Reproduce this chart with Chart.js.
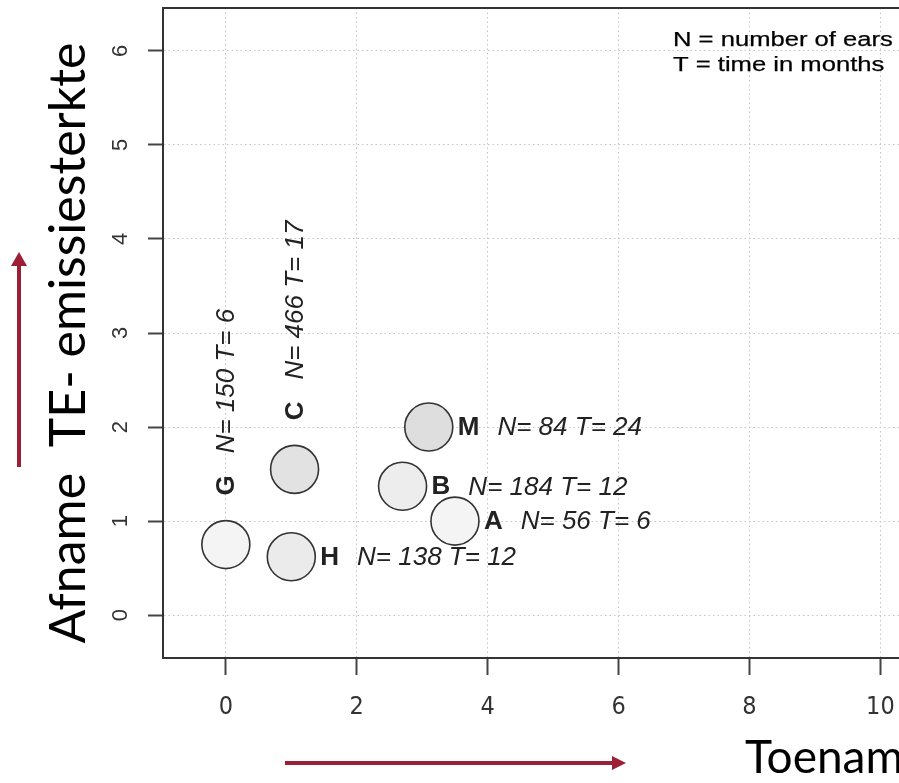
<!DOCTYPE html>
<html>
<head>
<meta charset="utf-8">
<script src="https://cdn.jsdelivr.net/npm/chart.js@4"></script>
<style>
  html, body { margin: 0; padding: 0; background: #fff; overflow: hidden; }
  #wrap { width: 1000px; height: 783px; }
</style>
</head>
<body>
<div id="wrap"><canvas id="grafico" width="1000" height="783"></canvas></div>
<script>
// data
const letters = ['G', 'C', 'H', 'B', 'A', 'M'];
const xVals = [0, 1.05, 1.0, 2.7, 3.5, 3.1];
const yVals = [0.75, 1.55, 0.62, 1.37, 1.0, 2.0];
const nVals = [150, 466, 138, 184, 56, 84];
const tVals = [6, 17, 12, 12, 6, 24];
const labelSide = ['up', 'up', 'right', 'right', 'right', 'right'];
const legendLines = ['N = number of ears', 'T = time in months'];
const yTitle = 'Afname  TE- emissiesterkte';
const xTitle = 'Toename';

const fills = ['#f4f4f4', '#e2e2e2', '#ebebeb', '#ededed', '#f4f4f4', '#dedede'];
const arrowColor = '#9c1f35';
const labelFont = '"Liberation Sans", Arial, sans-serif';
const titleFont = 'Lato, "Open Sans", sans-serif';

const pontos = xVals.map((x, i) => ({ x: x, y: yVals[i] }));

// letter + "N= .. T= .." next to each circle
const rotulos = {
    id: 'rotulos',
    afterDatasetsDraw(chart) {
        const ctx = chart.ctx;
        const meta = chart.getDatasetMeta(0);
        meta.data.forEach((pt, i) => {
            ctx.save();
            ctx.translate(pt.x, pt.y);
            let start = 29;
            let gap = 18;
            if (labelSide[i] === 'up') {
                ctx.rotate(-Math.PI / 2);
                start = 49;
                gap = 22;
            }
            ctx.fillStyle = '#222';
            ctx.textAlign = 'left';
            ctx.textBaseline = 'middle';
            ctx.font = 'bold 26px ' + labelFont;
            ctx.fillText(letters[i], start, 1);
            const w = ctx.measureText(letters[i]).width;
            ctx.font = 'italic 26px ' + labelFont;
            ctx.fillText('N= ' + nVals[i] + ' T= ' + tVals[i], start + w + gap, 1);
            ctx.restore();
        });
    }
};

// box, note, axis titles and the two red arrows
const extras = {
    id: 'extras',
    afterDraw(chart) {
        const ctx = chart.ctx;
        const a = chart.chartArea;
        ctx.save();
        ctx.strokeStyle = '#333';
        ctx.lineWidth = 2;
        ctx.strokeRect(a.left, a.top, a.right - a.left, a.bottom - a.top);

        // note top right (stretched like the original)
        ctx.fillStyle = '#000';
        ctx.strokeStyle = '#000';
        ctx.lineWidth = 0.25;
        ctx.font = '20px ' + labelFont;
        ctx.textBaseline = 'alphabetic';
        legendLines.forEach((t, i) => {
            ctx.save();
            ctx.translate(673, 46 + i * 25);
            ctx.scale(1.28, 1);
            ctx.fillText(t, 0, 0);
            ctx.strokeText(t, 0, 0);
            ctx.restore();
        });

        // titles
        ctx.fillStyle = '#000';
        ctx.font = '46px ' + titleFont;
        ctx.fillText(xTitle, 745, 773);

        ctx.save();
        ctx.translate(85, 343);
        ctx.rotate(-Math.PI / 2);
        ctx.font = '50px ' + titleFont;
        ctx.textAlign = 'center';
        ctx.fillText(yTitle, 0, 0);
        ctx.restore();

        // arrows
        ctx.fillStyle = arrowColor;
        ctx.fillRect(17, 265, 4, 202);
        ctx.beginPath();
        ctx.moveTo(11, 266); ctx.lineTo(27, 266); ctx.lineTo(19, 252); ctx.closePath();
        ctx.fill();
        ctx.fillRect(285, 761, 328, 4);
        ctx.beginPath();
        ctx.moveTo(612, 756); ctx.lineTo(612, 770); ctx.lineTo(626, 763); ctx.closePath();
        ctx.fill();
        ctx.restore();
    }
};

const ctx = document.getElementById('grafico').getContext('2d');
new Chart(ctx, {
    type: 'scatter',
    data: {
        datasets: [{
            data: pontos,
            backgroundColor: fills,
            borderColor: '#333',
            borderWidth: 1.6,
            pointRadius: 24,
            pointHoverRadius: 24
        }]
    },
    options: {
        responsive: false,
        devicePixelRatio: 1,
        animation: false,
        events: [],
        layout: { autoPadding: false, padding: { top: 8, right: 24, left: 0, bottom: 0 } },
        plugins: {
            legend: { display: false },
            tooltip: { enabled: false }
        },
        scales: {
            x: {
                type: 'linear',
                min: -0.96,
                max: 11.46,
                afterFit: (s) => {
                    s.height = 125;
                    s.paddingLeft = 0; s.paddingRight = 0;
                },
                ticks: {
                    stepSize: 2,
                    includeBounds: false,
                    color: '#333',
                    padding: 17,
                    font: { family: '"DejaVu Sans Condensed", "Liberation Sans Narrow", "Liberation Sans"', size: 25 }
                },
                grid: {
                    color: '#c4c4c4',
                    lineWidth: 1,
                    tickLength: 17,
                    tickColor: '#444',
                    tickWidth: 2
                },
                border: { color: '#333', width: 2, dash: [1.5, 3] }
            },
            y: {
                type: 'linear',
                min: -0.456,
                max: 6.456,
                afterFit: (s) => {
                    s.width = 163;
                    s.paddingTop = 0; s.paddingBottom = 0;
                },
                ticks: {
                    stepSize: 1,
                    includeBounds: false,
                    minRotation: 90,
                    maxRotation: 90,
                    crossAlign: 'center',
                    color: '#333',
                    padding: 21,
                    font: { family: labelFont, size: 22 }
                },
                grid: {
                    color: '#c4c4c4',
                    lineWidth: 1,
                    tickLength: 15,
                    tickColor: '#444',
                    tickWidth: 2
                },
                border: { color: '#333', width: 2, dash: [1.5, 3] }
            }
        }
    },
    plugins: [rotulos, extras]
});
</script>
</body>
</html>
